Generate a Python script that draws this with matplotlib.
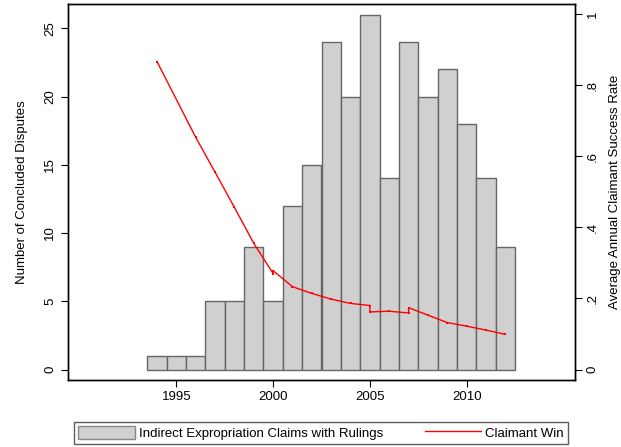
import matplotlib
matplotlib.use("Agg")
import matplotlib.pyplot as plt
from matplotlib.patches import Patch
from matplotlib.lines import Line2D

plt.rcParams['font.family'] = ['Liberation Sans', 'DejaVu Sans']

years = [1994, 1995, 1996, 1997, 1998, 1999, 2000, 2001, 2002, 2003,
         2004, 2005, 2006, 2007, 2008, 2009, 2010, 2011, 2012]
disputes = [1, 1, 1, 5, 5, 9, 5, 12, 15, 24, 20, 26, 14, 24, 20, 22, 18, 14, 9]

line_years = [1994, 1996, 1997, 1998, 1999, 2000, 2000, 2001, 2002, 2003, 2004,
              2005, 2005, 2006, 2007, 2007, 2008, 2009, 2010, 2011, 2012]
line_rate = [0.866, 0.653, 0.555, 0.456, 0.355, 0.270, 0.278, 0.233, 0.214, 0.198,
             0.186, 0.180, 0.162, 0.164, 0.159, 0.174, 0.153, 0.132, 0.122, 0.111, 0.099]

x_ticks = [1995, 2000, 2005, 2010]
left_ticks = [0, 5, 10, 15, 20, 25]
right_ticks = [0, 0.2, 0.4, 0.6, 0.8, 1.0]
right_labels = ['0', '.2', '.4', '.6', '.8', '1']

fs = 9.5
fig = plt.figure(figsize=(6.21, 4.47), dpi=100)
ax = fig.add_axes([68/621, 1-379.5/447, (575-68)/621, (379.5-4)/447])
ax.bar(years, disputes, width=1.0, color='#d0d0d0', edgecolor='#666666', linewidth=1.0, zorder=2)
ax.set_xlim(1989.4, 2015.6)
ax.set_ylim(-0.73, 26.78)
ax.set_xticks(x_ticks)
ax.set_xticklabels([str(t) for t in x_ticks], fontsize=fs)
ax.set_yticks(left_ticks)
ax.set_yticklabels([str(t) for t in left_ticks], fontsize=fs, rotation=90, va='center')
ax.set_ylabel('Number of Concluded Disputes', fontsize=fs, labelpad=12)
ax.tick_params(direction='out', length=5, width=0.8, color='black')
for s in ax.spines.values():
    s.set_linewidth(1.0)

ax2 = ax.twinx()
ax2.plot(line_years, line_rate, color='#ff0000', linewidth=1.0, marker='s', markersize=1.8,
         markeredgewidth=0, zorder=3)
ax2.set_ylim(-0.028, 1.028)
ax2.set_yticks(right_ticks)
ax2.set_yticklabels(right_labels, fontsize=fs, rotation=90, va='center')
ax2.set_ylabel('Average Annual Claimant Success Rate', fontsize=fs, labelpad=7)
ax2.tick_params(direction='out', length=5, width=0.8, color='black')
for s in ax2.spines.values():
    s.set_linewidth(1.0)

handles = [Patch(facecolor='#d0d0d0', edgecolor='#888888', linewidth=1.0),
           Line2D([0], [0], color='#ff0000', linewidth=1.0)]
labels = ['Indirect Expropriation Claims with Rulings', 'Claimant Win']
leg = fig.legend(handles, labels, loc='center', ncol=2, fontsize=fs,
                 bbox_to_anchor=(74/621, 1-444/447, (568-74)/621, 22.5/447),
                 mode='expand', frameon=True, fancybox=False, edgecolor='#333333',
                 handlelength=4.3, handleheight=1.1, handletextpad=0.3,
                 borderaxespad=0, borderpad=0.3, columnspacing=1.0)
leg.get_frame().set_linewidth(1.0)

fig.savefig('out.png', dpi=100)
